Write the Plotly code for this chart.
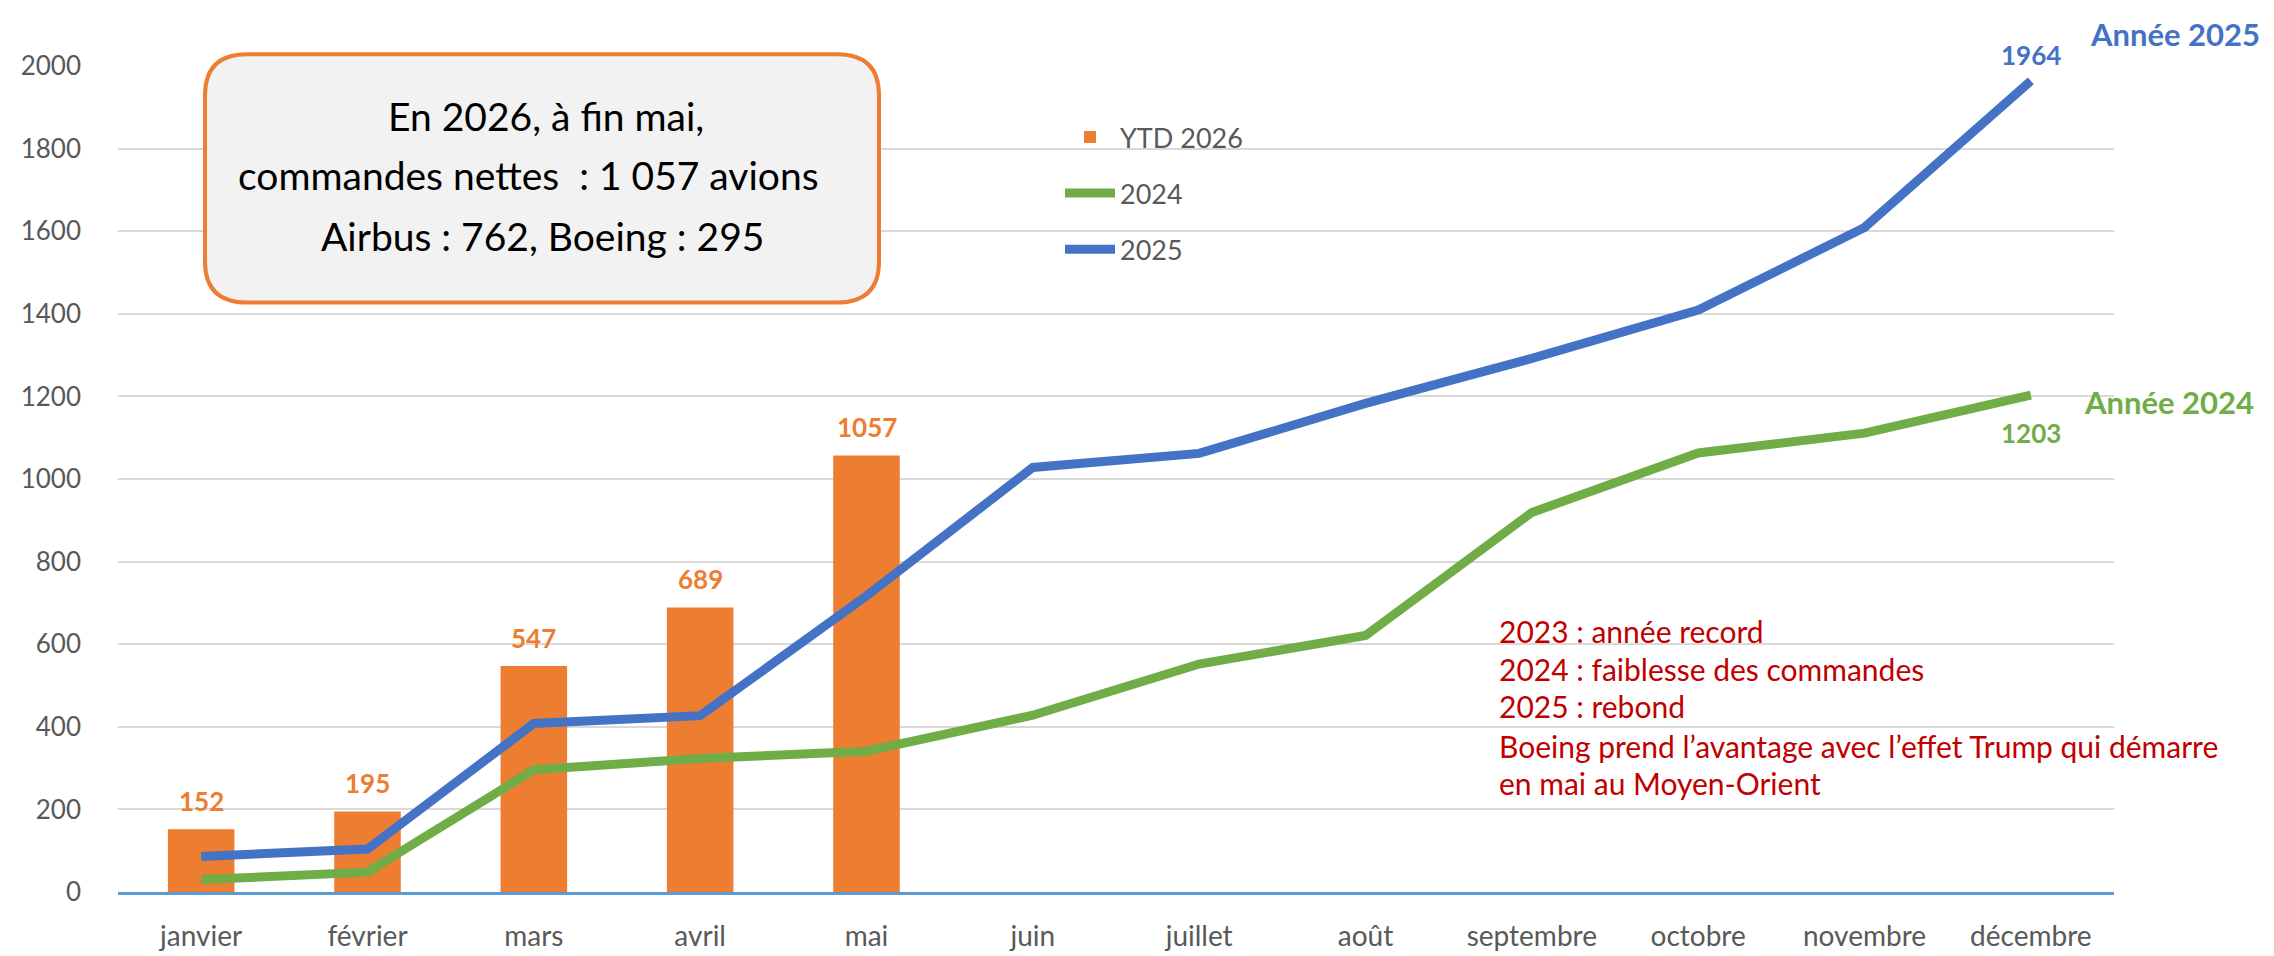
import plotly.graph_objects as go

months = ["janvier", "février", "mars", "avril", "mai", "juin", "juillet",
          "août", "septembre", "octobre", "novembre", "décembre"]
ytd_2026 = [152, 195, 547, 689, 1057]
y2024 = [30, 48, 296, 323, 341, 428, 552, 621, 919, 1063, 1111, 1203]
y2025 = [86, 104, 408, 427, 717, 1028, 1062, 1183, 1292, 1409, 1609, 1964]
yticks = list(range(0, 2001, 200))

ORANGE = "#ed7d31"
GREEN = "#70ad47"
BLUE = "#4472c4"
GREY = "#595959"
RED = "#c00000"
FONT = "Lato"

# plot area in pixels
WIDTH, HEIGHT = 2274, 956
L, R, T, B = 110, 2106, 58, 903
PW, PH = R - L, B - T


def px(x):
    return (x - L) / PW


def py(y):
    return (B - y) / PH


fig = go.Figure()
fig.add_trace(go.Bar(x=months[:len(ytd_2026)], y=ytd_2026, name="YTD 2026",
                     marker=dict(color=ORANGE, line=dict(width=0)),
                     legendgroup="a"))
fig.add_trace(go.Scatter(x=months, y=y2024, name="2024", mode="lines",
                         line=dict(color=GREEN, width=9), legendgroup="b"))
fig.add_trace(go.Scatter(x=months, y=y2025, name="2025", mode="lines",
                         line=dict(color=BLUE, width=9), legendgroup="c"))

ann = []
for m, v in zip(months, ytd_2026):
    ann.append(dict(x=m, y=v, xref="x", yref="y", text=f"<b>{v}</b>",
                    showarrow=False, yanchor="bottom", yshift=10,
                    font=dict(family=FONT, size=26, color=ORANGE)))
ann.append(dict(x=months[-1], y=y2025[-1], xref="x", yref="y",
                text=f"<b>{y2025[-1]}</b>", showarrow=False, yanchor="bottom",
                yshift=8, font=dict(family=FONT, size=26, color=BLUE)))
ann.append(dict(x=months[-1], y=y2024[-1], xref="x", yref="y",
                text=f"<b>{y2024[-1]}</b>", showarrow=False, yanchor="top",
                yshift=-20, font=dict(family=FONT, size=26, color=GREEN)))
ann.append(dict(x=px(2080), y=py(25), xref="paper", yref="paper",
                text="<b>Année 2025</b>", showarrow=False, xanchor="left",
                yanchor="middle", font=dict(family=FONT, size=31, color=BLUE)))
ann.append(dict(x=px(2074), y=py(402), xref="paper", yref="paper",
                text="<b>Année 2024</b>", showarrow=False, xanchor="left",
                yanchor="middle", font=dict(family=FONT, size=31, color=GREEN)))

box_lines = ["En 2026, à fin mai,", "commandes nettes  : 1 057 avions",
             "Airbus : 762, Boeing : 295"]
for txt, xx, yy in zip(box_lines, [538, 520, 534], [109, 170, 232]):
    ann.append(dict(x=px(xx), y=py(yy), xref="paper", yref="paper", text=txt,
                    showarrow=False, xanchor="center", yanchor="middle",
                    font=dict(family=FONT, size=39, color="black")))

red_lines = ["2023 : année record", "2024 : faiblesse des commandes",
             "2025 : rebond",
             "Boeing prend l’avantage avec l’effet Trump qui démarre",
             "en mai au Moyen-Orient"]
for txt, yy in zip(red_lines, [636, 675, 713, 754, 792]):
    ann.append(dict(x=px(1489), y=py(yy), xref="paper", yref="paper", text=txt,
                    showarrow=False, xanchor="left", yanchor="middle",
                    font=dict(family=FONT, size=30, color=RED)))

# rounded box
x0, x1, y0, y1, r = 197, 871, 46, 300, 42
pts = [("M", x0 + r, y0), ("L", x1 - r, y0), ("Q", x1, y0, x1, y0 + r),
       ("L", x1, y1 - r), ("Q", x1, y1, x1 - r, y1), ("L", x0 + r, y1),
       ("Q", x0, y1, x0, y1 - r), ("L", x0, y0 + r), ("Q", x0, y0, x0 + r, y0)]
path = ""
for p in pts:
    cmd = p[0]
    coords = p[1:]
    s = " ".join(f"{px(coords[i]):.5f},{py(coords[i + 1]):.5f}"
                 for i in range(0, len(coords), 2))
    path += f"{cmd}{s} "
path += "Z"

fig.update_layout(
    width=WIDTH, height=HEIGHT,
    margin=dict(l=L, r=WIDTH - R, t=T, b=HEIGHT - B),
    paper_bgcolor="white", plot_bgcolor="white",
    font=dict(family=FONT, color=GREY),
    bargap=0.6,
    showlegend=True,
    legend=dict(x=px(1052), y=py(106), xanchor="left", yanchor="top",
                font=dict(family=FONT, size=27, color=GREY),
                tracegroupgap=18, bgcolor="rgba(0,0,0,0)", itemwidth=50),
    annotations=ann,
    shapes=[dict(type="path", path=path, xref="paper", yref="paper",
                 fillcolor="#f2f2f2", line=dict(color=ORANGE, width=4),
                 layer="above")],
)
fig.update_xaxes(type="category", categoryorder="array", categoryarray=months,
                 range=[-0.5, len(months) - 0.5],
                 showline=True, linecolor="#5b9bd5", linewidth=2.5,
                 showgrid=False, ticks="", ticklabelstandoff=18,
                 tickfont=dict(family=FONT, size=28, color=GREY))
fig.update_yaxes(range=[0, 2000], tickvals=yticks, showgrid=True,
                 gridcolor="#d9d9d9", gridwidth=2, zeroline=False,
                 showline=False, ticks="", ticklabelstandoff=36,
                 tickfont=dict(family=FONT, size=26, color=GREY))

fig.write_html("out.html")
